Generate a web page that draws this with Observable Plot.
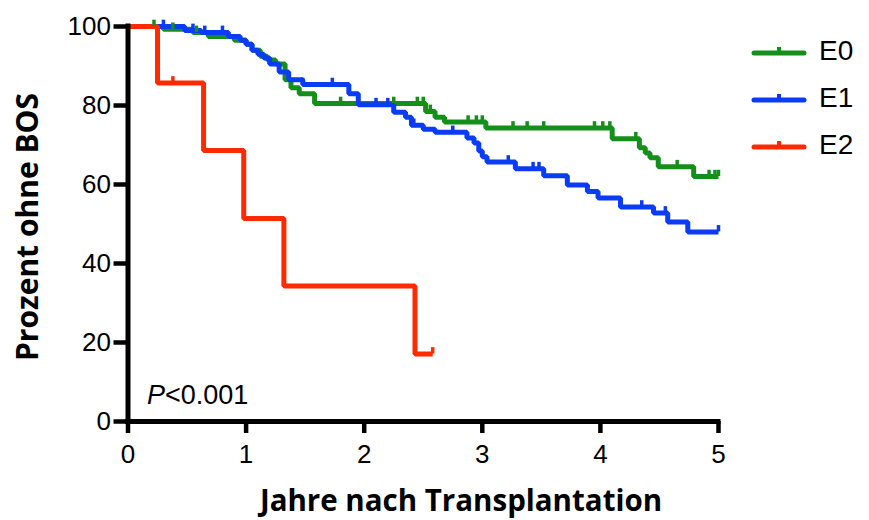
<!DOCTYPE html>
<html>
<head>
<meta charset="utf-8">
<script src="https://cdn.jsdelivr.net/npm/d3@7"></script>
<script src="https://cdn.jsdelivr.net/npm/@observablehq/plot@0.6"></script>
<style>
  body { margin: 0; background: #fff; }
  #wrap { position: relative; width: 869px; height: 520px; overflow: hidden; }
  #wrap > svg { position: absolute; left: 0; top: 0; }
  .ylab { position: absolute; left: 26px; top: 227px; transform: translate(-50%, -50%) rotate(-90deg); font: bold 30px "Open Sans", sans-serif; white-space: nowrap; color: #000; }
  .xlab { position: absolute; left: 461px; top: 499px; transform: translate(-50%, -50%); font: bold 29.5px "Open Sans", sans-serif; white-space: nowrap; color: #000; }
  .pval { position: absolute; left: 147px; top: 395px; transform: translateY(-50%); font: 27px "Liberation Sans", Arial, sans-serif; white-space: nowrap; }
  .leg { position: absolute; left: 751px; display: flex; align-items: center; font: 28px "Liberation Sans", Arial, sans-serif; transform: translateY(-50%); }
  .leg svg { display: block; margin-right: 12px; }
</style>
</head>
<body>
<div id="wrap"></div>
<script>
// ---- data ----
const groups = ["E0", "E1", "E2"];
const colors = ["#14901a", "#0a3cf5", "#ff2a00"];

const e0Time = [0, 0.30, 0.55, 0.68, 0.90, 1.00, 1.05, 1.12, 1.18, 1.25, 1.33, 1.38, 1.45, 1.58, 2.52, 2.60, 2.68, 3.03, 4.10, 4.33, 4.38, 4.42, 4.49, 4.79, 5.00];
const e0Surv = [100, 99.3, 98.5, 97.5, 96.5, 95.5, 94, 92.5, 91.5, 90.5, 86.5, 84.5, 83, 80.5, 78.5, 77, 75.8, 74.3, 71.6, 69.3, 68, 66.8, 64.5, 62, 62];

const e1Time = [0, 0.48, 0.62, 0.85, 0.95, 1.00, 1.05, 1.10, 1.15, 1.20, 1.28, 1.36, 1.48, 1.87, 1.95, 2.25, 2.35, 2.40, 2.50, 2.60, 2.87, 2.93, 2.97, 3.00, 3.04, 3.28, 3.52, 3.72, 3.89, 3.98, 4.17, 4.45, 4.57, 4.74, 5.00];
const e1Surv = [100, 99, 98.5, 97.5, 96.5, 95.5, 94, 93, 92, 90.5, 88.5, 86.5, 85.3, 83, 80.2, 78.3, 77, 75, 74, 73.2, 71.8, 70.5, 68.5, 67, 65.7, 64, 62.2, 59.9, 58.2, 56.6, 54.3, 52.8, 50.5, 48, 48];

const e2Time = [0, 0.25, 0.64, 0.98, 1.32, 2.43, 2.58];
const e2Surv = [100, 85.7, 68.6, 51.4, 34.3, 17.1, 17.1];

const e0Censor = [0.22, 0.38, 0.58, 1.80, 2.25, 2.45, 2.50, 2.56, 2.88, 2.95, 3.00, 3.26, 3.38, 3.52, 3.95, 4.02, 4.08, 4.30, 4.65, 4.92, 4.97, 5.00];
const e1Censor = [0.30, 0.55, 0.65, 0.80, 1.48, 1.73, 2.10, 2.20, 2.42, 2.75, 3.22, 3.43, 3.48, 4.35, 4.55, 5.00];
const e2Censor = [0.38, 2.58];

const yTicks = [0, 20, 40, 60, 80, 100];
const xTicks = [0, 1, 2, 3, 4, 5];

// ---- build tables ----
const series = [[e0Time, e0Surv, e0Censor], [e1Time, e1Surv, e1Censor], [e2Time, e2Surv, e2Censor]];
const lineRows = [];
const censorRows = [];
series.forEach(([t, s, c], i) => {
  t.forEach((tt, j) => lineRows.push({group: groups[i], t: tt, s: s[j]}));
  c.forEach(ct => {
    let v = s[0];
    for (let j = 0; j < t.length; j++) if (t[j] <= ct) v = s[j];
    censorRows.push({group: groups[i], t: ct, s: v});
  });
});

const color = {domain: groups, range: colors};

const chart = Plot.plot({
  width: 869,
  height: 520,
  marginLeft: 127.5,
  marginRight: 151,
  marginTop: 26,
  marginBottom: 99,
  style: {fontFamily: '"Liberation Sans", Arial, sans-serif', fontSize: "26px", background: "transparent"},
  x: {domain: [0, 5]},
  y: {domain: [0, 100]},
  color,
  marks: [
    ...groups.map(g => Plot.line(lineRows.filter(d => d.group === g), {x: "t", y: "s", stroke: "group", curve: "step-after", strokeWidth: 5, strokeLinejoin: "miter", strokeLinecap: "butt"})),
    ...groups.map(g => Plot.ruleX(censorRows.filter(d => d.group === g), {x: "t", y1: "s", y2: d => d.s + 1.6, stroke: "group", strokeWidth: 3.5})),
    Plot.axisY({ticks: yTicks, tickFormat: d => String(d), tickSize: 14, tickPadding: 3, strokeWidth: 4.5, label: null, fill: "#000"}),
    Plot.axisX({ticks: xTicks, tickFormat: d => String(d), tickSize: 12, tickPadding: 11, strokeWidth: 4.5, label: null, fill: "#000"}),
    Plot.ruleX([0], {y1: 0, y2: 100, strokeWidth: 5, strokeLinecap: "square"}),
    Plot.ruleY([0], {x1: 0, x2: 5, strokeWidth: 5, strokeLinecap: "square"})
  ]
});

const wrap = document.getElementById("wrap");
wrap.appendChild(chart);

const add = (cls, html, style) => {
  const d = document.createElement("div");
  d.className = cls; d.innerHTML = html;
  if (style) Object.assign(d.style, style);
  wrap.appendChild(d);
};
add("ylab", "Prozent ohne BOS");
add("xlab", "Jahre nach Transplantation");
add("pval", "<i>P</i>&lt;0.001");

const legY = [51, 98, 145];
groups.forEach((g, i) => {
  const c = colors[i];
  add("leg", `<svg width="56" height="16"><line x1="3" y1="10" x2="53" y2="10" stroke="${c}" stroke-width="5" stroke-linecap="round"/><line x1="28" y1="10" x2="28" y2="4" stroke="${c}" stroke-width="4"/></svg><span>${g}</span>`, {top: legY[i] + "px"});
});
</script>
</body>
</html>
